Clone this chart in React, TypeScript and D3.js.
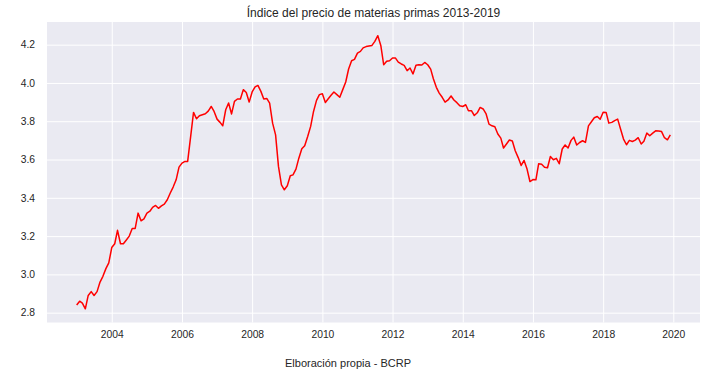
import { useEffect, useRef } from "react"
import * as d3 from "d3"

// monthly commodity price index (log), one array per year, Jan..Dec
const y2003 = [2.84, 2.86, 2.85, 2.82, 2.89, 2.91, 2.89, 2.91, 2.96, 2.99, 3.03, 3.06]
const y2004 = [3.14, 3.16, 3.23, 3.16, 3.16, 3.18, 3.2, 3.24, 3.24, 3.32, 3.28, 3.29]
const y2005 = [3.32, 3.33, 3.35, 3.36, 3.345, 3.358, 3.367, 3.39, 3.425, 3.456, 3.494, 3.56]
const y2006 = [3.581, 3.59, 3.59, 3.72, 3.846, 3.813, 3.829, 3.834, 3.839, 3.853, 3.877, 3.851]
const y2007 = [3.811, 3.794, 3.776, 3.86, 3.895, 3.838, 3.904, 3.916, 3.916, 3.965, 3.95, 3.9]
const y2008 = [3.953, 3.979, 3.987, 3.956, 3.916, 3.919, 3.895, 3.79, 3.729, 3.564, 3.468, 3.442]
const y2009 = [3.463, 3.515, 3.52, 3.55, 3.607, 3.656, 3.672, 3.72, 3.773, 3.851, 3.909, 3.939]
const y2010 = [3.944, 3.898, 3.916, 3.936, 3.953, 3.939, 3.925, 3.965, 4.005, 4.073, 4.116, 4.123]
const y2011 = [4.156, 4.165, 4.183, 4.19, 4.193, 4.196, 4.217, 4.247, 4.196, 4.095, 4.113, 4.116]
const y2012 = [4.13, 4.13, 4.109, 4.099, 4.092, 4.064, 4.078, 4.047, 4.092, 4.095, 4.094, 4.107]
const y2013 = [4.095, 4.072, 4.022, 3.977, 3.947, 3.925, 3.9, 3.911, 3.932, 3.911, 3.897, 3.881]
const y2014 = [3.877, 3.886, 3.855, 3.855, 3.83, 3.844, 3.872, 3.864, 3.838, 3.785, 3.776, 3.771]
const y2015 = [3.733, 3.712, 3.66, 3.681, 3.702, 3.697, 3.646, 3.61, 3.569, 3.595, 3.55, 3.485]
const y2016 = [3.495, 3.494, 3.578, 3.575, 3.56, 3.557, 3.616, 3.599, 3.606, 3.578, 3.655, 3.676]
const y2017 = [3.66, 3.7, 3.717, 3.676, 3.689, 3.698, 3.689, 3.776, 3.797, 3.818, 3.825, 3.81]
const y2018 = [3.847, 3.846, 3.79, 3.794, 3.803, 3.811, 3.759, 3.707, 3.677, 3.7, 3.694, 3.701]
const y2019 = [3.714, 3.681, 3.696, 3.738, 3.724, 3.738, 3.75, 3.749, 3.746, 3.714, 3.703, 3.729]

const startYear = 2003
const xTickYears = [2004, 2006, 2008, 2010, 2012, 2014, 2016, 2018, 2020]
const yTicks = [2.8, 3.0, 3.2, 3.4, 3.6, 3.8, 4.0, 4.2]

const title = "Índice del precio de materias primas 2013-2019"
const xLabel = "Elboración propia - BCRP"

export default function App() {
    const ref = useRef<SVGSVGElement>(null)

    const width = 708, height = 375
    const margin = { top: 22, left: 47, right: 8, bottom: 52.5 }

    useEffect(() => {
        document.body.style.margin = "0"

        const values = [y2003, y2004, y2005, y2006, y2007, y2008, y2009, y2010, y2011,
            y2012, y2013, y2014, y2015, y2016, y2017, y2018, y2019].flat()
        const data = values.map((v, i) => ({ date: new Date(startYear, i, 1), value: v }))

        const innerW = width - margin.left - margin.right
        const innerH = height - margin.top - margin.bottom

        const svg = d3.select(ref.current)
        svg.selectAll("*").remove()

        // matplotlib style 5% padding on both axes
        const [d0, d1] = d3.extent(data, d => +d.date) as [number, number]
        const padX = (d1 - d0) * 0.05
        const xScale = d3.scaleTime()
            .domain([new Date(d0 - padX), new Date(d1 + padX)])
            .range([0, innerW])

        const [v0, v1] = d3.extent(data, d => d.value) as [number, number]
        const padY = (v1 - v0) * 0.05
        const yScale = d3.scaleLinear()
            .domain([v0 - padY, v1 + padY])
            .range([innerH, 0])

        const g = svg.append("g")
            .attr("transform", `translate(${margin.left}, ${margin.top})`)

        g.append("rect")
            .attr("width", innerW)
            .attr("height", innerH)
            .attr("fill", "#EAEAF2")

        const font = "'Liberation Sans', Arial, sans-serif"
        const textColor = "#262626"

        const xAxis = d3.axisBottom(xScale)
            .tickValues(xTickYears.map(y => new Date(y, 0, 1)))
            .tickFormat(d => d3.timeFormat("%Y")(d as Date))
            .tickSize(-innerH)
            .tickPadding(8)

        g.append("g")
            .attr("transform", `translate(0, ${innerH})`)
            .call(xAxis)
            .call(s => s.select(".domain").remove())
            .call(s => s.selectAll("line").attr("stroke", "white").attr("stroke-width", 1))
            .call(s => s.selectAll("text")
                .attr("fill", textColor)
                .style("font-family", font)
                .style("font-size", "10.3px"))

        const yAxis = d3.axisLeft(yScale)
            .tickValues(yTicks)
            .tickFormat(d3.format(".1f"))
            .tickSize(-innerW)
            .tickPadding(12)

        g.append("g")
            .call(yAxis)
            .call(s => s.select(".domain").remove())
            .call(s => s.selectAll("line").attr("stroke", "white").attr("stroke-width", 1))
            .call(s => s.selectAll("text")
                .attr("fill", textColor)
                .style("font-family", font)
                .style("font-size", "10.3px"))

        const linePath = d3.line<{ date: Date, value: number }>()
            .x(d => xScale(d.date))
            .y(d => yScale(d.value))

        g.append("path")
            .datum(data)
            .attr("fill", "none")
            .attr("stroke", "red")
            .attr("stroke-width", 1.5)
            .attr("stroke-linejoin", "round")
            .attr("d", linePath)

        svg.append("text")
            .attr("x", margin.left + innerW / 2)
            .attr("y", 17)
            .attr("text-anchor", "middle")
            .attr("fill", textColor)
            .style("font-family", font)
            .style("font-size", "12px")
            .text(title)

        // the source note sits left of the axes centre in the original
        svg.append("text")
            .attr("x", 348)
            .attr("y", 366.5)
            .attr("text-anchor", "middle")
            .attr("fill", textColor)
            .style("font-family", font)
            .style("font-size", "11px")
            .text(xLabel)
    }, [])

    return (
        <svg ref={ref} width={width} height={height} style={{ display: "block", background: "white" }} />
    )
}
